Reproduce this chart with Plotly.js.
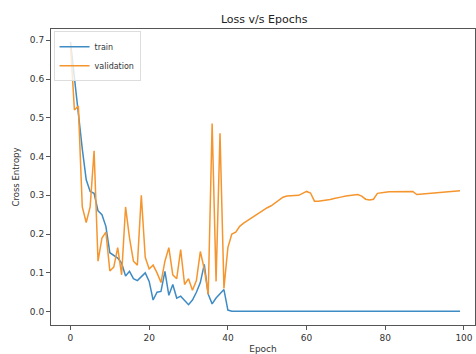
<!DOCTYPE html>
<html>
<head>
<meta charset="utf-8">
<script src="https://cdn.plot.ly/plotly-3.0.1.min.js"></script>
<style>html,body{margin:0;padding:0;background:#fff;}#chart{width:476px;height:354px;}</style>
</head>
<body>
<div id="chart"></div>
<script>
const epochs = Array.from({length: 100}, (_, i) => i);

const trainLoss = [
  0.695, 0.60, 0.50, 0.42, 0.34, 0.31, 0.305, 0.26, 0.25, 0.22,
  0.152, 0.145, 0.138, 0.125, 0.092, 0.104, 0.085, 0.08, 0.09, 0.10,
  0.078, 0.03, 0.05, 0.052, 0.104, 0.042, 0.07, 0.035, 0.04, 0.03,
  0.018, 0.03, 0.05, 0.075, 0.122, 0.045, 0.02, 0.035, 0.045, 0.057,
  0.004, 0.001, 0.001, 0.001, 0.001, 0.001, 0.001, 0.001, 0.001, 0.001,
  0.001, 0.001, 0.001, 0.001, 0.001, 0.001, 0.001, 0.001, 0.001, 0.001,
  0.001, 0.001, 0.001, 0.001, 0.001, 0.001, 0.001, 0.001, 0.001, 0.001,
  0.001, 0.001, 0.001, 0.001, 0.001, 0.001, 0.001, 0.001, 0.001, 0.001,
  0.001, 0.001, 0.001, 0.001, 0.001, 0.001, 0.001, 0.001, 0.001, 0.001,
  0.001, 0.001, 0.001, 0.001, 0.001, 0.001, 0.001, 0.001, 0.001, 0.001
];

const valLoss = [
  0.69, 0.52, 0.53, 0.27, 0.23, 0.27, 0.415, 0.13, 0.19, 0.205,
  0.105, 0.115, 0.165, 0.095, 0.27, 0.19, 0.13, 0.12, 0.30, 0.14,
  0.11, 0.12, 0.10, 0.075, 0.13, 0.165, 0.095, 0.085, 0.16, 0.07,
  0.085, 0.055, 0.08, 0.155, 0.11, 0.045, 0.485, 0.078, 0.46, 0.06,
  0.165, 0.20, 0.205, 0.22, 0.228, 0.235, 0.24, 0.248, 0.255, 0.262,
  0.268, 0.273, 0.28, 0.288, 0.295, 0.298, 0.299, 0.30, 0.30, 0.305,
  0.31, 0.306, 0.285, 0.285, 0.286, 0.287, 0.289, 0.292, 0.295, 0.296,
  0.298, 0.30, 0.301, 0.302, 0.298, 0.29, 0.288, 0.29, 0.305, 0.307,
  0.308, 0.309, 0.309, 0.31, 0.31, 0.31, 0.31, 0.31, 0.302, 0.303,
  0.304, 0.305, 0.306, 0.307, 0.307, 0.308, 0.309, 0.31, 0.311, 0.312
];

const xTicks = [0, 20, 40, 60, 80, 100];
const yTicks = [0.0, 0.1, 0.2, 0.3, 0.4, 0.5, 0.6, 0.7];

const fam = 'DejaVu Sans, sans-serif';
const tickFont = {family: fam, size: 9, color: '#333'};

const data = [
  {x: epochs, y: trainLoss, name: 'train', type: 'scatter', mode: 'lines',
   line: {color: '#3f8bc4', width: 1.5}},
  {x: epochs, y: valLoss, name: 'validation', type: 'scatter', mode: 'lines',
   line: {color: '#f5952e', width: 1.5}}
];

const axisCommon = {
  showline: true, mirror: true, linecolor: '#555', linewidth: 1,
  ticks: 'outside', ticklen: 4, tickwidth: 1, tickcolor: '#555',
  showgrid: false, zeroline: false, tickfont: tickFont
};

const layout = {
  width: 476, height: 354,
  margin: {l: 51, r: 1, t: 29, b: 29},
  paper_bgcolor: '#fff', plot_bgcolor: '#fff',
  title: {text: 'Loss v/s Epochs', font: {family: fam, size: 11, color: '#222'},
          x: 0.555, xanchor: 'center', y: 0.945, yanchor: 'middle'},
  showlegend: true,
  legend: {x: 0.006, y: 0.992, xanchor: 'left', yanchor: 'top',
           bgcolor: 'rgba(255,255,255,0.8)', bordercolor: '#ddd', borderwidth: 1,
           font: {family: fam, size: 8, color: '#333'},
           tracegroupgap: 0},
  xaxis: Object.assign({}, axisCommon, {
    range: [-4.95, 102.8], tickvals: xTicks, ticktext: xTicks.map(String),
    title: {text: 'Epoch', font: {family: fam, size: 9, color: '#333'}, standoff: 8}
  }),
  yaxis: Object.assign({}, axisCommon, {
    range: [-0.0345, 0.729], tickvals: yTicks, ticktext: yTicks.map(v => v.toFixed(1)),
    title: {text: 'Cross Entropy', font: {family: fam, size: 8.5, color: '#333'}, standoff: 8}
  })
};

Plotly.newPlot('chart', data, layout, {displayModeBar: false, staticPlot: true});
</script>
</body>
</html>
